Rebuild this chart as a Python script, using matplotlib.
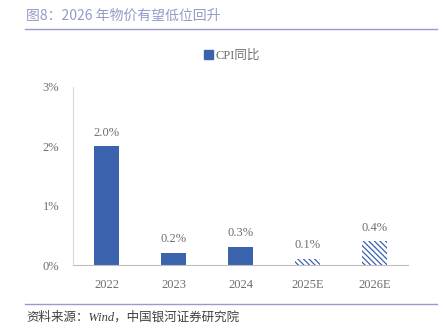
import numpy as np
import matplotlib.pyplot as plt
from matplotlib.patches import Patch

plt.rcParams["font.family"] = ["Liberation Serif", "Noto Sans CJK SC"]
plt.rcParams["hatch.linewidth"] = 0.9

# Data
years = ["2022", "2023", "2024", "2025E", "2026E"]
cpi = [2.0, 0.2, 0.3, 0.1, 0.4]
is_forecast = [False, False, False, True, True]
yticks = [0, 1, 2, 3]

blue = "#3A62AD"
grey = "#6E6E6E"
purple = "#9C9ACD"

fig = plt.figure(figsize=(4.44, 3.32), dpi=100)
ax = fig.add_axes([73 / 444, 67 / 332, 335 / 444, 178 / 332])

x = np.arange(len(years))
for i in range(len(years)):
    if is_forecast[i]:
        ax.bar(x[i], cpi[i], width=0.36, color="white", edgecolor=blue,
               hatch="\\\\\\\\\\\\", linewidth=0)
    else:
        ax.bar(x[i], cpi[i], width=0.36, color=blue)
    ax.text(x[i], cpi[i] + 0.13, f"{cpi[i]:.1f}%", ha="center", va="bottom",
            fontsize=9, color=grey)

ax.set_xlim(-0.5, 4.5)
ax.set_ylim(0, 3)
ax.set_xticks(x)
ax.set_xticklabels(years)
ax.set_yticks(yticks)
ax.set_yticklabels([f"{v}%" for v in yticks])
ax.tick_params(length=0, labelsize=9, colors=grey, pad=10)
for s in ["top", "right"]:
    ax.spines[s].set_visible(False)
ax.spines["left"].set_color("#D9D9D9")
ax.spines["bottom"].set_color("#BFBFBF")

leg = fig.legend(handles=[Patch(color=blue, label="CPI同比")],
                 loc="center", bbox_to_anchor=(232 / 444, 1 - 56 / 332),
                 frameon=False, fontsize=9, handlelength=0.7, handleheight=0.7,
                 handletextpad=0.2)
for t in leg.get_texts():
    t.set_color(grey)

# Title and source
fig.text(26 / 444, 1 - 16 / 332, "图8：2026 年物价有望低位回升", fontsize=10,
         color="#939BC8", va="center", ha="left", family=["Noto Sans CJK SC"])
fig.add_artist(plt.Line2D([25 / 444, 437 / 444], [1 - 29 / 332] * 2,
                          color=purple, lw=1))
fig.add_artist(plt.Line2D([25 / 444, 437 / 444], [1 - 304 / 332] * 2,
                          color=purple, lw=1))
fig.text(26 / 444, 1 - 317 / 332, "资料来源：Wind，中国银河证券研究院", fontsize=9,
         color="#404040", va="center", ha="left", style="italic")

fig.savefig("out.png", dpi=100)
